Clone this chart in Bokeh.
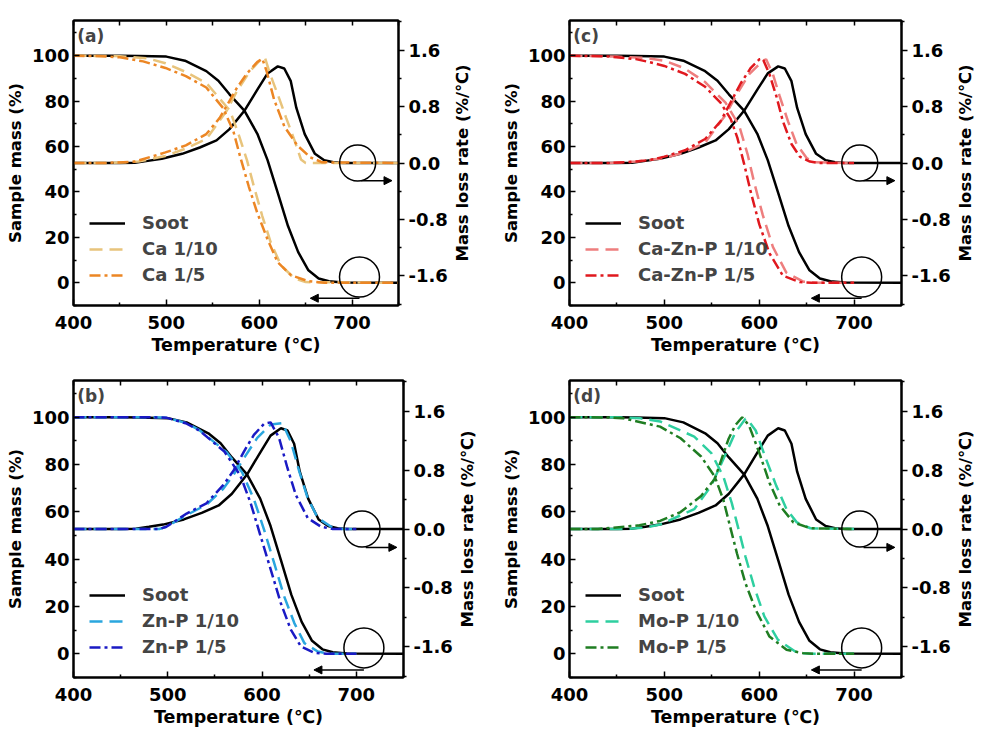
from bokeh.plotting import figure
from bokeh.models import (Range1d, LinearAxis, FixedTicker, PrintfTickFormatter,
                          Legend, LegendItem, Label, Arrow, NormalHead, Title)
from bokeh.layouts import column, row
from bokeh.embed import file_html
from bokeh.resources import INLINE

# ---------------- data ----------------
# Soot (reference, shared by all panels)
soot_T_tg = [400, 450, 470, 500, 520, 543, 556, 568, 584, 598, 609, 620, 631, 642, 653, 664, 675, 690, 750]
soot_tg = [100, 100, 99.9, 99.6, 97.8, 93.2, 89, 83, 75.8, 65.6, 54, 39.6, 25, 13.5, 5.5, 1.9, 0.7, 0.1, 0]
soot_T_dtg = [400, 450, 466, 480, 495, 517, 536, 554, 568, 584, 598, 609, 620, 627, 634, 640, 649, 660, 670, 680, 690, 750]
soot_dtg = [0, 0, 0.005, 0.03, 0.06, 0.13, 0.22, 0.32, 0.48, 0.74, 1.04, 1.27, 1.37, 1.34, 1.16, 0.78, 0.41, 0.13, 0.04, 0.01, 0, 0]

# (a) Ca
ca10_T_tg = [400, 450, 480, 499, 520, 543, 568.5, 577.6, 586.8, 594.2, 603.3, 612.4, 623.4, 638.1, 650, 750]
ca10_tg = [100, 99.8, 98.8, 96.7, 93, 88, 75.8, 65.6, 54, 42.5, 29.4, 17.8, 7.7, 1.9, 0.3, 0]
ca10_T_dtg = [400, 440, 470, 499, 520, 543, 565, 576, 590, 603, 606, 612, 620, 629, 638, 645, 650, 750]
ca10_dtg = [0, 0, 0.02, 0.1, 0.2, 0.34, 0.74, 1.02, 1.3, 1.49, 1.5, 1.25, 0.97, 0.64, 0.32, 0.05, 0, 0]
ca5_T_tg = [400, 430, 450, 475, 499, 521, 543, 561, 572, 579.5, 588.7, 597.8, 608.8, 619.8, 634.4, 652.7, 670, 750]
ca5_tg = [100, 99.8, 99.3, 97.5, 94.6, 91, 86, 77, 67, 55.5, 42.5, 30.9, 19.3, 9.1, 3.3, 0.7, 0, 0]
ca5_T_dtg = [400, 433, 466, 499, 521, 543, 557.5, 566.7, 575.8, 586.8, 597.8, 603.3, 608, 616, 627, 641, 655, 668, 750]
ca5_dtg = [0, 0, 0.02, 0.15, 0.25, 0.41, 0.64, 0.85, 1.06, 1.27, 1.43, 1.48, 1.3, 0.9, 0.52, 0.25, 0.08, 0.01, 0]

# (c) Ca-Zn-P
czp10_T_tg = [400, 450, 480, 500, 521, 543, 564.5, 578.7, 587.7, 594.8, 603.7, 614.4, 628.6, 646.5, 660, 700]
czp10_tg = [100, 99.6, 99, 97.8, 94.5, 88.4, 79.3, 69.4, 56.7, 44, 29.9, 15.8, 4.5, 0.5, 0, 0]
czp10_T_dtg = [400, 440, 470, 500, 521, 543, 564.5, 577, 589.5, 603.7, 607.3, 614.4, 621.5, 630.4, 639.3, 650, 657, 700]
czp10_dtg = [0, 0, 0.02, 0.07, 0.15, 0.29, 0.68, 0.99, 1.26, 1.45, 1.47, 1.26, 0.95, 0.59, 0.27, 0.07, 0.01, 0]
czp5_T_tg = [400, 440, 470, 486, 500, 521.8, 543, 559.2, 569.9, 577, 584, 591.2, 600.1, 610.8, 625, 642.8, 655, 700]
czp5_tg = [100, 99.7, 98.5, 97, 95.5, 92, 86.3, 79.3, 72.2, 63.8, 52.5, 39.8, 25.7, 13, 3.1, 0.3, 0, 0]
czp5_T_dtg = [400, 443, 470, 486, 500, 521.8, 543, 559.2, 569.9, 580.6, 591.2, 600.1, 603.7, 610.8, 618, 625, 634, 642.8, 653.5, 662, 700]
czp5_dtg = [0, 0, 0.02, 0.045, 0.09, 0.18, 0.34, 0.59, 0.86, 1.13, 1.35, 1.47, 1.48, 1.26, 0.95, 0.59, 0.27, 0.09, 0.02, 0, 0]

# (b) Zn-P
znp10_T_tg = [400, 480, 498.5, 520, 534, 562.7, 578.8, 591.3, 602, 612.7, 623.4, 634.2, 644.9, 659, 672, 700]
znp10_tg = [100, 100, 99.8, 97.5, 94.4, 85.1, 76.7, 65.4, 52.6, 38.5, 24.3, 13, 4.5, 1, 0, 0]
znp10_T_dtg = [400, 491, 498.5, 520, 541, 559, 569.9, 580.6, 594.9, 609.1, 621.6, 630.5, 639.5, 648.4, 659.1, 673.3, 685, 700]
znp10_dtg = [0, 0, 0.03, 0.19, 0.33, 0.55, 0.74, 0.96, 1.24, 1.42, 1.44, 1.19, 0.78, 0.42, 0.15, 0.03, 0, 0]
znp5_T_tg = [400, 480, 498.5, 520, 534, 560, 577, 587.7, 598.4, 609.1, 619.8, 630.5, 641.2, 655, 668, 700]
znp5_tg = [100, 100, 99.8, 97.3, 94.2, 85.5, 75.3, 63.9, 49.8, 35.7, 21.5, 10.2, 3.1, 0.5, 0, 0]
znp5_T_dtg = [400, 491, 498.5, 520, 541, 559, 570, 580.6, 591.3, 602, 609.1, 618, 626.9, 635.9, 648.4, 662.6, 675, 700]
znp5_dtg = [0, 0, 0.03, 0.21, 0.35, 0.6, 0.8, 1.05, 1.28, 1.43, 1.45, 1.24, 0.83, 0.46, 0.15, 0.03, 0, 0]

# (d) Mo-P
mop10_T_tg = [400, 450, 475, 495.5, 531.5, 549.5, 562.2, 571.1, 578.4, 585.5, 594.6, 605.4, 619.8, 639.6, 655, 700]
mop10_tg = [100, 100, 99.5, 98.2, 91.8, 84.8, 74.9, 63.7, 52.4, 41.1, 28.4, 15.8, 5.9, 0.5, 0, 0]
mop10_T_dtg = [400, 460, 480, 495.5, 531.5, 549.5, 563.9, 574.7, 585.5, 587, 596.3, 607.2, 617.9, 628.8, 639.6, 654, 700]
mop10_dtg = [0, 0, 0.02, 0.06, 0.27, 0.59, 1.0, 1.31, 1.5, 1.5, 1.34, 0.95, 0.59, 0.27, 0.09, 0.01, 0]
mop5_T_tg = [400, 440, 455.8, 495.5, 517.1, 538.7, 553.1, 562.2, 569.3, 576.5, 585.5, 596.3, 610.8, 628.8, 646, 660, 700]
mop5_tg = [100, 99.9, 99.6, 96, 91.1, 83.4, 74.9, 65.1, 53.8, 42.5, 29.8, 18.6, 7.3, 1.7, 0.3, 0, 0]
mop5_T_dtg = [400, 430, 473.8, 495.5, 517.1, 538.7, 553.1, 560.3, 567.5, 574.7, 582, 589.2, 600, 610.8, 621.6, 636, 654, 700]
mop5_dtg = [0, 0, 0.05, 0.11, 0.23, 0.45, 0.68, 0.95, 1.22, 1.41, 1.52, 1.41, 1.04, 0.63, 0.32, 0.09, 0.01, 0]

x_ticks = [400, 500, 600, 700]
x_minor = [450, 550, 650, 750]
top_ticks = [400, 450, 500, 550, 600, 650, 700, 750]
mass_ticks = [0, 20, 40, 60, 80, 100]
mass_minor = [-10, 10, 30, 50, 70, 90, 110]
rate_ticks = [-1.6, -0.8, 0.0, 0.8, 1.6]
rate_minor = [-2.0, -1.2, -0.4, 0.4, 1.2, 2.0]

# annotation anchors (temperature, mass / rate)
tg_circle = (708, 2.5)
dtg_circle = (706, 0.0)
tg_arrow = (708, 655, -6.8)
dtg_arrow = (710, 743, -0.25)

FONT = "DejaVu Sans"
RATE_TITLE = "Mass loss rate (%/℃)"


def style_axis(ax, ticks, minor, size="18px", tick_in=6, tick_out=0):
    ax.ticker = FixedTicker(ticks=ticks, minor_ticks=minor)
    ax.axis_line_width = 2
    ax.axis_line_color = "black"
    ax.major_tick_line_width = 1.5
    ax.minor_tick_line_width = 1.5
    ax.major_tick_in = tick_in
    ax.major_tick_out = tick_out
    ax.minor_tick_in = tick_in // 2 if tick_in else 0
    ax.minor_tick_out = tick_out // 2 if tick_out else 0
    ax.major_label_text_font = FONT
    ax.major_label_text_font_style = "bold"
    ax.major_label_text_font_size = size
    ax.major_label_text_color = "black"
    ax.axis_label_text_font = FONT
    ax.axis_label_text_font_style = "bold"
    ax.axis_label_text_font_size = "16.5px"
    ax.axis_label_text_color = "black"
    ax.major_label_standoff = 4
    ax.axis_label_standoff = 4


def panel(tag, label10, label5, c10, c5, s10, s5, w, h, mbl, mbr, mbt, mbb):
    p = figure(width=w, height=h, output_backend="svg", toolbar_location=None,
               x_range=Range1d(400, 750), y_range=Range1d(-10, 115.5),
               min_border_left=mbl, min_border_right=mbr,
               min_border_top=mbt, min_border_bottom=mbb)
    p.extra_y_ranges = {"dtg": Range1d(-2.02, 2.02)}
    p.xgrid.visible = False
    p.ygrid.visible = False
    p.outline_line_color = "black"
    p.outline_line_width = 2
    p.background_fill_color = "white"
    p.border_fill_color = "white"

    style_axis(p.xaxis[0], x_ticks, x_minor)
    p.xaxis[0].axis_label = "Temperature (℃)"
    p.xaxis[0].axis_label_text_font_size = "17.5px"
    p.xaxis[0].major_label_standoff = 10
    p.xaxis[0].axis_label_standoff = 3
    style_axis(p.yaxis[0], mass_ticks, mass_minor)
    p.yaxis[0].axis_label = "Sample mass (%)"

    ra = LinearAxis(y_range_name="dtg")
    style_axis(ra, rate_ticks, rate_minor, tick_in=0, tick_out=6)
    ra.formatter = PrintfTickFormatter(format="%.1f")
    p.add_layout(ra, "right")

    # top frame ticks only (no labels)
    ta = LinearAxis()
    ta.ticker = FixedTicker(ticks=[], minor_ticks=top_ticks)
    ta.axis_line_width = 2
    ta.minor_tick_line_width = 1.5
    ta.minor_tick_in = 5
    ta.minor_tick_out = 0
    ta.major_label_standoff = 0
    p.add_layout(ta, "above")

    lw = 2.5
    r0 = p.line(soot_T_tg, soot_tg, line_color="black", line_width=lw)
    p.line(soot_T_dtg, soot_dtg, line_color="black", line_width=lw, y_range_name="dtg")
    r1 = p.line(s10[0], s10[1], line_color=c10, line_width=lw, line_dash="13 7")
    p.line(s10[2], s10[3], line_color=c10, line_width=lw, line_dash="13 7", y_range_name="dtg")
    r2 = p.line(s5[0], s5[1], line_color=c5, line_width=lw, line_dash="11 4 3 4")
    p.line(s5[2], s5[3], line_color=c5, line_width=lw, line_dash="11 4 3 4", y_range_name="dtg")

    legend = Legend(items=[LegendItem(label="Soot", renderers=[r0]),
                           LegendItem(label=label10, renderers=[r1]),
                           LegendItem(label=label5, renderers=[r2])],
                    location=(16, 20), background_fill_alpha=0, border_line_alpha=0,
                    label_text_font=FONT, label_text_font_style="bold",
                    label_text_font_size="18px", glyph_width=36, glyph_height=20,
                    label_height=20, spacing=5, padding=0, margin=0, label_standoff=17)
    p.add_layout(legend)

    p.scatter([tg_circle[0]], [tg_circle[1]], marker="circle", size=40, fill_alpha=0,
              line_color="black", line_width=1.5)
    p.scatter([dtg_circle[0]], [dtg_circle[1]], marker="circle", size=36, fill_alpha=0,
              line_color="black", line_width=1.5, y_range_name="dtg")
    p.add_layout(Arrow(x_start=tg_arrow[0], x_end=tg_arrow[1], y_start=tg_arrow[2], y_end=tg_arrow[2],
                       line_width=1.5, end=NormalHead(size=8, fill_color="black", line_color="black")))
    p.add_layout(Arrow(x_start=dtg_arrow[0], x_end=dtg_arrow[1], y_start=dtg_arrow[2], y_end=dtg_arrow[2],
                       y_range_name="dtg", line_width=1.5,
                       end=NormalHead(size=8, fill_color="black", line_color="black")))

    p.add_layout(Label(x=404, y=113, text=tag, text_font=FONT, text_font_style="bold",
                       text_font_size="17px", text_baseline="top", text_align="left"))
    return p


def rate_title(w, h, mbt, mbb):
    """Narrow strip holding the right-hand axis title, reading bottom-to-top."""
    t = figure(width=w, height=h, output_backend="svg", toolbar_location=None,
               x_range=Range1d(0, 1), y_range=Range1d(0, 1),
               x_axis_location=None, y_axis_location=None,
               min_border_left=0, min_border_right=0,
               min_border_top=mbt, min_border_bottom=mbb)
    t.outline_line_color = None
    t.xgrid.visible = False
    t.ygrid.visible = False
    t.background_fill_color = "white"
    t.border_fill_color = "white"
    t.add_layout(Title(text=RATE_TITLE, align="center", text_font=FONT,
                       text_font_style="bold", text_font_size="16.5px",
                       text_color="black", standoff=0, offset=0), "left")
    return t


pa = panel("(a)", "Ca 1/10", "Ca 1/5", "#E8C47C", "#EC8624",
           (ca10_T_tg, ca10_tg, ca10_T_dtg, ca10_dtg), (ca5_T_tg, ca5_tg, ca5_T_dtg, ca5_dtg),
           450, 368, 73, 50, 20, 60)
ta_ = rate_title(48, 368, 20, 60)
pc = panel("(c)", "Ca-Zn-P 1/10", "Ca-Zn-P 1/5", "#EE7E7E", "#E0181E",
           (czp10_T_tg, czp10_tg, czp10_T_dtg, czp10_dtg), (czp5_T_tg, czp5_tg, czp5_T_dtg, czp5_dtg),
           455, 368, 70, 50, 14, 63)
tc_ = rate_title(30, 368, 14, 63)
pb = panel("(b)", "Zn-P 1/10", "Zn-P 1/5", "#2AA6DE", "#1A1AC4",
           (znp10_T_tg, znp10_tg, znp10_T_dtg, znp10_dtg), (znp5_T_tg, znp5_tg, znp5_T_dtg, znp5_dtg),
           455, 362, 73, 50, 12, 53)
tb_ = rate_title(43, 362, 12, 53)
pd_ = panel("(d)", "Mo-P 1/10", "Mo-P 1/5", "#2ECFA0", "#1F7D22",
            (mop10_T_tg, mop10_tg, mop10_T_dtg, mop10_dtg), (mop5_T_tg, mop5_tg, mop5_T_dtg, mop5_dtg),
            455, 362, 68, 50, 12, 53)
td_ = rate_title(30, 362, 12, 53)

layout = column(row(pa, ta_, pc, tc_), row(pb, tb_, pd_, td_))
open("out.html", "w").write(file_html(layout, INLINE))
